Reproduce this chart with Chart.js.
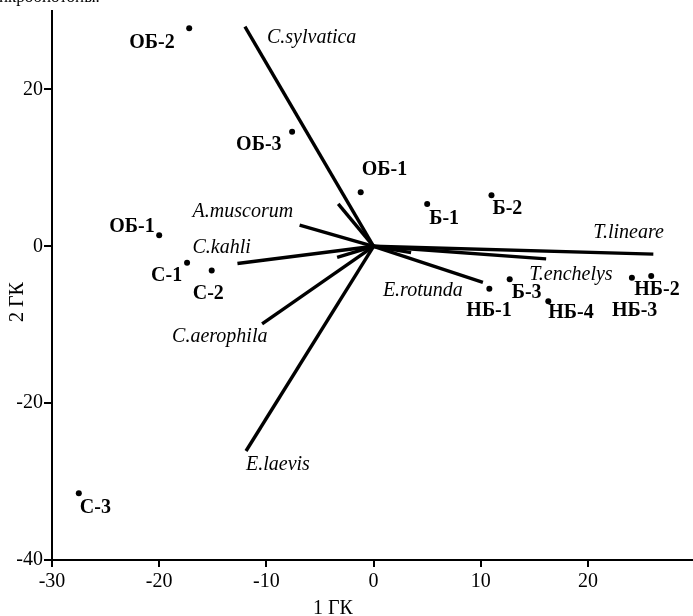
<!DOCTYPE html>
<html>
<head>
<meta charset="utf-8">
<script src="https://cdn.jsdelivr.net/npm/chart.js@4/dist/chart.umd.min.js"></script>
<style>
  body { margin: 0; background: #fff; }
  #wrap { position: relative; width: 693px; height: 616px; overflow: hidden; }
  #note { position: absolute; top: -13px; left: -1px; font: 17px 'Liberation Serif', serif; line-height: 20px; color: #000; }
  canvas { position: absolute; top: 0; left: 0; }
</style>
</head>
<body>
<div id="wrap">
  <canvas id="chart" width="693" height="616"></canvas>
  <div id="note">икробиотоны.</div>
</div>
<script>
// sites (microbiotopes) in the plane of the 1st and 2nd canonical axes
const sampleNames = ['ОБ-2', 'ОБ-3', 'ОБ-1', 'ОБ-1', 'С-1', 'С-2', 'С-3', 'Б-1', 'Б-2', 'Б-3', 'НБ-1', 'НБ-2', 'НБ-3', 'НБ-4']
const sampleX = [-17.2, -7.6, -1.2, -20.0, -17.4, -15.1, -27.5, 5.0, 11.0, 12.7, 10.8, 25.9, 24.1, 16.3]
const sampleY = [27.8, 14.6, 6.9, 1.4, -2.1, -3.1, -31.5, 5.4, 6.5, -4.2, -5.4, -3.8, -4.0, -7.0]

// species vectors (from the origin), empty name = unlabeled
const speciesNames = ['C.sylvatica', 'A.muscorum', 'C.kahli', 'C.aerophila', 'E.laevis', 'E.rotunda', 'T.enchelys', 'T.lineare', '', '', '']
const speciesX = [-12.0, -6.9, -12.7, -10.4, -11.9, 10.2, 16.1, 26.1, -3.3, -3.4, 3.5]
const speciesY = [28.0, 2.7, -2.2, -9.9, -26.1, -4.6, -1.6, -1.0, 5.4, -1.4, -0.8]

const xTicks = [-30, -20, -10, 0, 10, 20]
const yTicks = [-40, -20, 0, 20]

// label placement, pixel offsets of the text's left/middle from the mark
const sampleLabelPos = [[-60, 15], [-56, 13], [1, -22], [-50, -8], [-36, 13], [-19, 23], [1, 14], [2, 15], [1, 14], [2, 14], [-23, 22], [-17, 14], [-20, 33], [0, 12]]
const speciesLabelPos = [[22, 11], [-107, -13], [-45, -16], [-90, 13], [0, 14], [-100, 8], [-17, 16], [-60, -21]]

const FONT = "'Liberation Serif', 'Times New Roman', serif"

const vectorSets = speciesX.map((x, i) => ({
  data: [{ x: 0, y: 0 }, { x, y: speciesY[i] }],
  showLine: true,
  borderColor: '#000',
  borderWidth: 3.4,
  pointRadius: 0,
  pointHoverRadius: 0,
}))

const sampleSet = {
  data: sampleX.map((x, i) => ({ x, y: sampleY[i] })),
  pointRadius: 3,
  backgroundColor: '#000',
  borderWidth: 0,
}

const labels = {
  id: 'labels',
  afterDatasetsDraw(chart) {
    const { ctx, scales: { x, y } } = chart
    ctx.save()
    ctx.fillStyle = '#000'
    ctx.textAlign = 'left'
    ctx.textBaseline = 'middle'

    ctx.font = 'bold 20px ' + FONT
    sampleNames.forEach((name, i) => {
      const [dx, dy] = sampleLabelPos[i]
      ctx.fillText(name, x.getPixelForValue(sampleX[i]) + dx, y.getPixelForValue(sampleY[i]) + dy)
    })

    ctx.font = 'italic 20px ' + FONT
    speciesNames.forEach((name, i) => {
      if (!name) return
      const [dx, dy] = speciesLabelPos[i]
      ctx.fillText(name, x.getPixelForValue(speciesX[i]) + dx, y.getPixelForValue(speciesY[i]) + dy)
    })

    // axis titles
    ctx.font = '20px ' + FONT
    ctx.textAlign = 'center'
    ctx.textBaseline = 'alphabetic'
    ctx.fillText('1 ГК', 333, 614)
    ctx.translate(23, 302)
    ctx.rotate(-Math.PI / 2)
    ctx.fillText('2 ГК', 0, 0)
    ctx.restore()
  }
}

const axis = (min, max, ticks, stepSize) => ({
  type: 'linear',
  min,
  max,
  afterBuildTicks: (scale) => { scale.ticks = ticks.map((value) => ({ value })) },
  ticks: { stepSize, color: '#000', font: { family: FONT, size: 20 }, includeBounds: false },
  grid: { drawOnChartArea: false, drawTicks: true, color: '#000', lineWidth: 2 },
  border: { display: true, color: '#000', width: 2 },
})

const xAxis = axis(-30, 29.8, xTicks, 10)
xAxis.grid.tickLength = 7
xAxis.ticks.padding = 3
xAxis.afterFit = (scale) => {
  scale.height = 56
  scale.paddingLeft = 0
  scale.paddingRight = 0
}

const yAxis = axis(-40, 30, yTicks, 20)
yAxis.grid.tickLength = 8
yAxis.ticks.padding = 1
yAxis.afterFit = (scale) => {
  scale.width = 52
  scale.paddingTop = 0
  scale.paddingBottom = 0
}

new Chart(document.getElementById('chart'), {
  type: 'scatter',
  data: { datasets: [...vectorSets, sampleSet] },
  options: {
    responsive: false,
    animation: false,
    layout: { autoPadding: false, padding: { top: 11, right: 0, left: 0, bottom: 0 } },
    scales: { x: xAxis, y: yAxis },
    plugins: { legend: { display: false }, tooltip: { enabled: false } },
  },
  plugins: [labels],
})
</script>
</body>
</html>
